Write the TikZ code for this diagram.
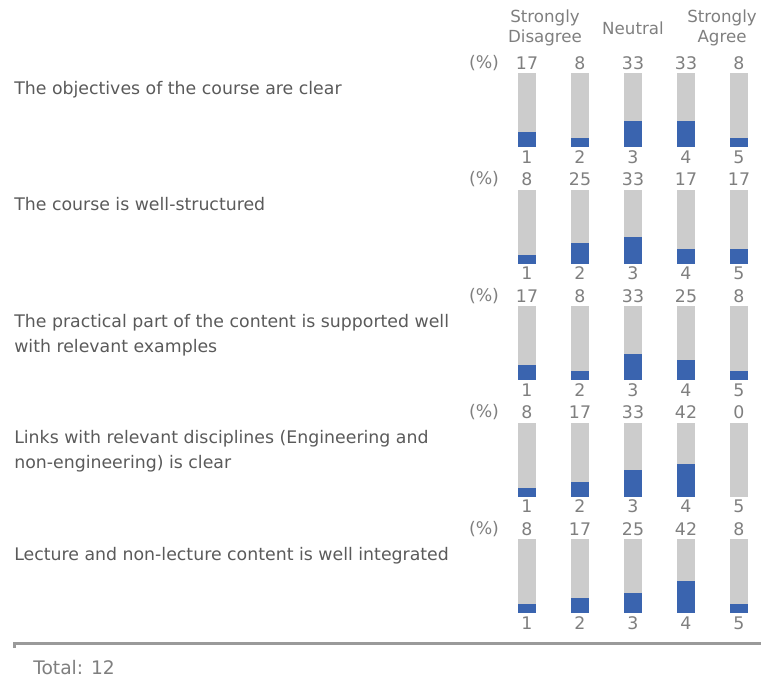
\documentclass[tikz,border=0pt]{standalone}
\usepackage{fontspec}
\setmainfont{DejaVu Sans}
\definecolor{labelgray}{HTML}{5A5A5A}
\definecolor{numgray}{HTML}{7F7F7F}
\definecolor{bargray}{HTML}{CCCCCC}
\definecolor{barblue}{HTML}{3A64AF}
\definecolor{rulegray}{HTML}{9A9A9A}
\begin{document}
\begin{tikzpicture}[x=0.75pt, y=-0.75pt,
        item/.style = {anchor=base west, align=left, inner sep=0pt, text=labelgray,
            font=\fontsize{13}{18.75}\selectfont},
        pct/.style  = {inner sep=0pt, text=numgray, font=\fontsize{13}{15}\selectfont},
        head/.style = {align=center, inner sep=0pt, text=numgray,
            font=\fontsize{12.5}{15}\selectfont}
    ]
        \useasboundingbox (0,0) rectangle (761,679);
        % scale heads
        \node[head] (sd) at (545,28) {Strongly\\Disagree};
        \node[head] (ne) at (633,28) {Neutral};
        \node[head] (sa) at (722,28) {Strongly\\Agree};
        % questions (base = last line)
        \node[item] (q1) at (14,94) {The objectives of the course are clear};
        \node[item] (q2) at (14,210.5) {The course is well-structured};
        \node[item] (q3) at (14,352) {The practical part of the content is supported well\\with relevant examples};
        \node[item] (q4) at (14,468.5) {Links with relevant disciplines (Engineering and\\non-engineering) is clear};
        \node[item] (q5) at (14,560) {Lecture and non-lecture content is well integrated};
        % bars
        \foreach \vals [count=\r] in {{17,8,33,33,8},{8,25,33,17,17},{17,8,33,25,8},{8,17,33,42,0},{8,17,25,42,8}} {
            \pgfmathsetmacro\rowtop{73+116.5*(\r-1)}
            \node[pct] (pc\r) at (484,\rowtop-10) {(\%)};
            \foreach \v [count=\c] in \vals {
                \pgfmathsetmacro\xc{527+53*(\c-1)}
                \fill[bargray] (\xc-9,\rowtop) rectangle (\xc+9,\rowtop+74);
                \ifnum\v>0
                    \fill[barblue] (\xc-9,\rowtop+71-0.7*\v) rectangle (\xc+9,\rowtop+74);
                \fi
                \node[pct] (p\r\c) at (\xc,\rowtop-10) {\v};
                \node[pct] (n\r\c) at (\xc,\rowtop+84) {\c};
            }
        }
        % footer
        \draw[rulegray, line width=2.25pt] (14,648) -- (14,643) -- (761,643);
        \node[pct, anchor=base west, font=\fontsize{14}{16}\selectfont] (tot) at (33,674) {Total: 12};
    \end{tikzpicture}
\end{document}
